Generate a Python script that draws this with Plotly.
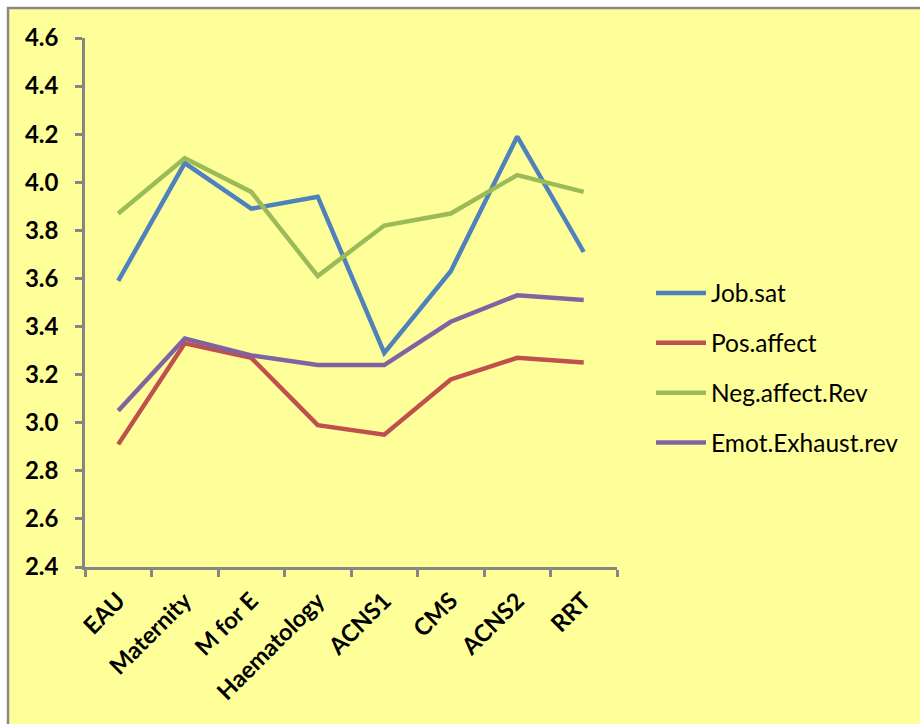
import plotly.graph_objects as go

# Ward categories along the x-axis
wards = ["EAU", "Maternity", "M for E", "Haematology", "ACNS1", "CMS", "ACNS2", "RRT"]

# Mean scores per ward
job_sat = [3.59, 4.08, 3.89, 3.94, 3.29, 3.63, 4.19, 3.71]
pos_affect = [2.91, 3.33, 3.27, 2.99, 2.95, 3.18, 3.27, 3.25]
neg_affect_rev = [3.87, 4.10, 3.96, 3.61, 3.82, 3.87, 4.03, 3.96]
emot_exhaust_rev = [3.05, 3.35, 3.28, 3.24, 3.24, 3.42, 3.53, 3.51]

series = [
    ("Job.sat", job_sat, "#4F81BD"),
    ("Pos.affect", pos_affect, "#C0504D"),
    ("Neg.affect.Rev", neg_affect_rev, "#9BBB59"),
    ("Emot.Exhaust.rev", emot_exhaust_rev, "#8064A2"),
]

y_ticks = [2.4, 2.6, 2.8, 3.0, 3.2, 3.4, 3.6, 3.8, 4.0, 4.2, 4.4, 4.6]

fig = go.Figure()
for name, vals, color in series:
    fig.add_trace(go.Scatter(
        x=wards, y=vals, name=name, mode="lines",
        line=dict(color=color, width=4.5),
        legendgroup=name,
    ))

W, H = 920, 724
L, R, T, B = 85, 303, 38, 157
pw, ph = W - L - R, H - T - B


def px_x(p):
    return (p - L) / pw


def px_y(p):
    return (H - B - p) / ph


axis_grey = "#868686"
font_family = "Lato, Open Sans, sans-serif"

fig.update_layout(
    width=W, height=H,
    margin=dict(l=L, r=R, t=T, b=B, pad=0),
    paper_bgcolor="white",
    plot_bgcolor="rgba(0,0,0,0)",
    font=dict(family=font_family, color="black"),
    showlegend=True,
    legend=dict(
        x=px_x(651), y=px_y(368), xanchor="left", yanchor="middle",
        bgcolor="rgba(0,0,0,0)",
        font=dict(size=24.5, family=font_family, color="black"),
        tracegroupgap=15,
        itemwidth=50,
    ),
    shapes=[
        # chart area background with grey frame
        dict(type="rect", xref="paper", yref="paper",
             x0=px_x(8), x1=px_x(940), y0=px_y(740), y1=px_y(8),
             fillcolor="#FFFF99", line=dict(color="#888888", width=2.5),
             layer="below"),
    ],
)

fig.update_xaxes(
    type="category",
    showgrid=False, zeroline=False,
    showline=True, linecolor=axis_grey, linewidth=2.5,
    ticks="outside", tickson="boundaries", ticklen=7, tickwidth=2.5, tickcolor=axis_grey,
    tickangle=-45,
    ticklabelstandoff=8,
    tickfont=dict(size=23.5, family=font_family, color="black", weight="bold"),
    range=[-0.5, len(wards) - 0.5],
)

fig.update_yaxes(
    range=[2.4, 4.6],
    tickvals=y_ticks,
    ticktext=[f"{v:.1f}" for v in y_ticks],
    showgrid=False, zeroline=False,
    showline=True, linecolor=axis_grey, linewidth=2.5,
    ticks="outside", ticklen=7, tickwidth=2.5, tickcolor=axis_grey,
    ticklabelstandoff=12,
    tickfont=dict(size=24, family=font_family, color="black", weight="bold"),
)

fig.write_html("out.html")
